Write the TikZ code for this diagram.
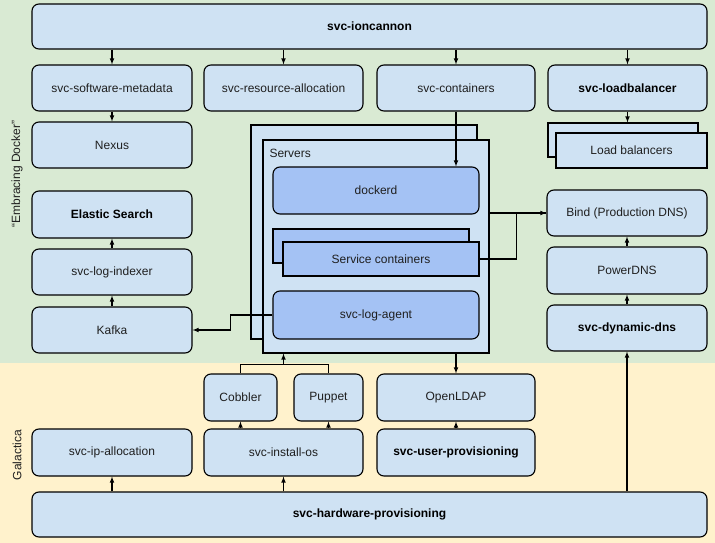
\documentclass[tikz,border=0pt]{standalone}
\usepackage{fontspec}
\setmainfont{Liberation Sans}
\usetikzlibrary{positioning}
\tikzset{
	>=latex,
}
\definecolor{dockerbg}{HTML}{D9EAD3}
\definecolor{galabg}{HTML}{FFF2CC}
\definecolor{svcfill}{HTML}{CFE2F3}
\definecolor{hostfill}{HTML}{A4C2F4}

\begin{document}
\begin{tikzpicture}[x=1pt,y=-1pt,line width=1.1pt,
		dims/.style 2 args={minimum width=#1pt, minimum height=#2pt},
		svc/.style={rectangle, rounded corners=7pt, draw, fill=svcfill, inner sep=0pt, text=black!88, font=\fontsize{12}{14}\selectfont},
		key/.style={svc, text=black, font=\fontsize{12}{14}\selectfont\bfseries},
		host/.style={svc, fill=hostfill},
		stack/.style={rectangle, draw, fill=svcfill, inner sep=0pt, text=black!88, font=\fontsize{12}{14}\selectfont},
		zone/.style={rotate=90, inner sep=0pt, text=black!88, font=\fontsize{12}{14}\selectfont},
	]
		\useasboundingbox (0,0) rectangle (715,543);
		\fill[dockerbg] (0,0) rectangle (715,363);
		\fill[galabg] (0,363) rectangle (715,543);
		\node[zone] (docker) at (17,174) {“Embracing Docker”};
		\node[zone] (galactica) at (17,455) {Galactica};

		\node[key, dims={675}{45}] (ioncannon) at (369.5,26.5) {svc-ioncannon};
		\node[svc, dims={160}{46}] (swmeta) at (112,88) {svc-software-metadata};
		\node[svc, dims={159}{46}] (resalloc) at (283.5,88) {svc-resource-allocation};
		\node[svc, dims={158}{46}] (containers) at (456,88) {svc-containers};
		\node[key, dims={159}{46}] (lbsvc) at (627.5,88) {svc-loadbalancer};
		\node[svc, dims={160}{46}] (nexus) at (112,145) {Nexus};
		\node[stack, dims={150}{34}] (lbback) at (623,140) {};
		\node[stack, dims={151}{35}] (lbfront) at (631.5,150.5) {Load balancers};
		\node[key, dims={160}{47}] (elastic) at (112,214.5) {Elastic Search};
		\node[svc, dims={160}{46}] (indexer) at (112,272) {svc-log-indexer};
		\node[svc, dims={160}{46}] (kafka) at (112,330) {Kafka};

		\node[stack, dims={226}{214}] (srvback) at (364,232) {};
		\node[stack, dims={226}{213}] (srvfront) at (376,246.5) {};
		\node[anchor=west, inner sep=0pt, text=black!88, font=\fontsize{12}{14}\selectfont] (srvlabel) at (269,153) {Servers};
		\node[host, dims={206}{47}] (dockerd) at (376,190.5) {dockerd};
		\node[stack, fill=hostfill, dims={196}{34}] (scback) at (371,246) {};
		\node[stack, fill=hostfill, dims={196}{34}] (scfront) at (381,259) {Service containers};
		\node[host, dims={206}{48}] (agent) at (376,315) {svc-log-agent};

		\node[svc, dims={160}{46}] (bind) at (627,213) {Bind (Production DNS)};
		\node[svc, dims={160}{47}] (powerdns) at (627,270.5) {PowerDNS};
		\node[key, dims={160}{46}] (dyndns) at (627,328) {svc-dynamic-dns};

		\node[svc, dims={73}{47}] (cobbler) at (240.5,397.5) {Cobbler};
		\node[svc, dims={69}{47}] (puppet) at (328.5,397.5) {Puppet};
		\node[svc, dims={158}{47}] (openldap) at (456,397.5) {OpenLDAP};
		\node[svc, dims={160}{47}] (ipalloc) at (112,452.5) {svc-ip-allocation};
		\node[svc, dims={159}{47}] (installos) at (283.5,452.5) {svc-install-os};
		\node[key, dims={158}{47}] (userprov) at (456,452.5) {svc-user-provisioning};
		\node[key, dims={675}{45}] (hwprov) at (369.5,514.5) {svc-hardware-provisioning};

		\draw[->] (ioncannon.south -| swmeta) -- (swmeta.north);
		\draw[->] (ioncannon.south -| resalloc) -- (resalloc.north);
		\draw[->] (ioncannon.south -| containers) -- (containers.north);
		\draw[->] (ioncannon.south -| lbsvc) -- (lbsvc.north);
		\draw[->] (swmeta.south) -- (nexus.north);
		\draw[->] (lbsvc.south) -- (lbsvc.south |- lbback.north);
		\draw[->] (indexer.north) -- (elastic.south);
		\draw[->] (kafka.north) -- (indexer.south);
		\draw[->] (containers.south) -- (containers.south |- dockerd.north);
		\draw[->] (agent.west) -- ++(-42,0) |- (kafka.east);
		\draw[->] (srvfront.east |- bind.west) -- (bind.west);
		\draw (scfront.east) -- ++(37,0) |- (bind.west);
		\draw[->] (powerdns.north) -- (bind.south);
		\draw[->] (dyndns.north) -- (powerdns.south);
		\draw[->] (hwprov.north -| dyndns) -- (dyndns.south);
		\draw[->] (srvfront.south -| openldap) -- (openldap.north);
		\draw (cobbler.north) -- ++(0,-9) coordinate (cp) -| (puppet.north);
		\draw[->] (cp -| installos) -- (srvfront.south -| installos);
		\draw[->] (installos.north -| cobbler) -- (cobbler.south);
		\draw[->] (installos.north -| puppet) -- (puppet.south);
		\draw[->] (userprov.north) -- (openldap.south);
		\draw[->] (hwprov.north -| ipalloc) -- (ipalloc.south);
		\draw[->] (hwprov.north -| installos) -- (installos.south);
	\end{tikzpicture}
\end{document}
